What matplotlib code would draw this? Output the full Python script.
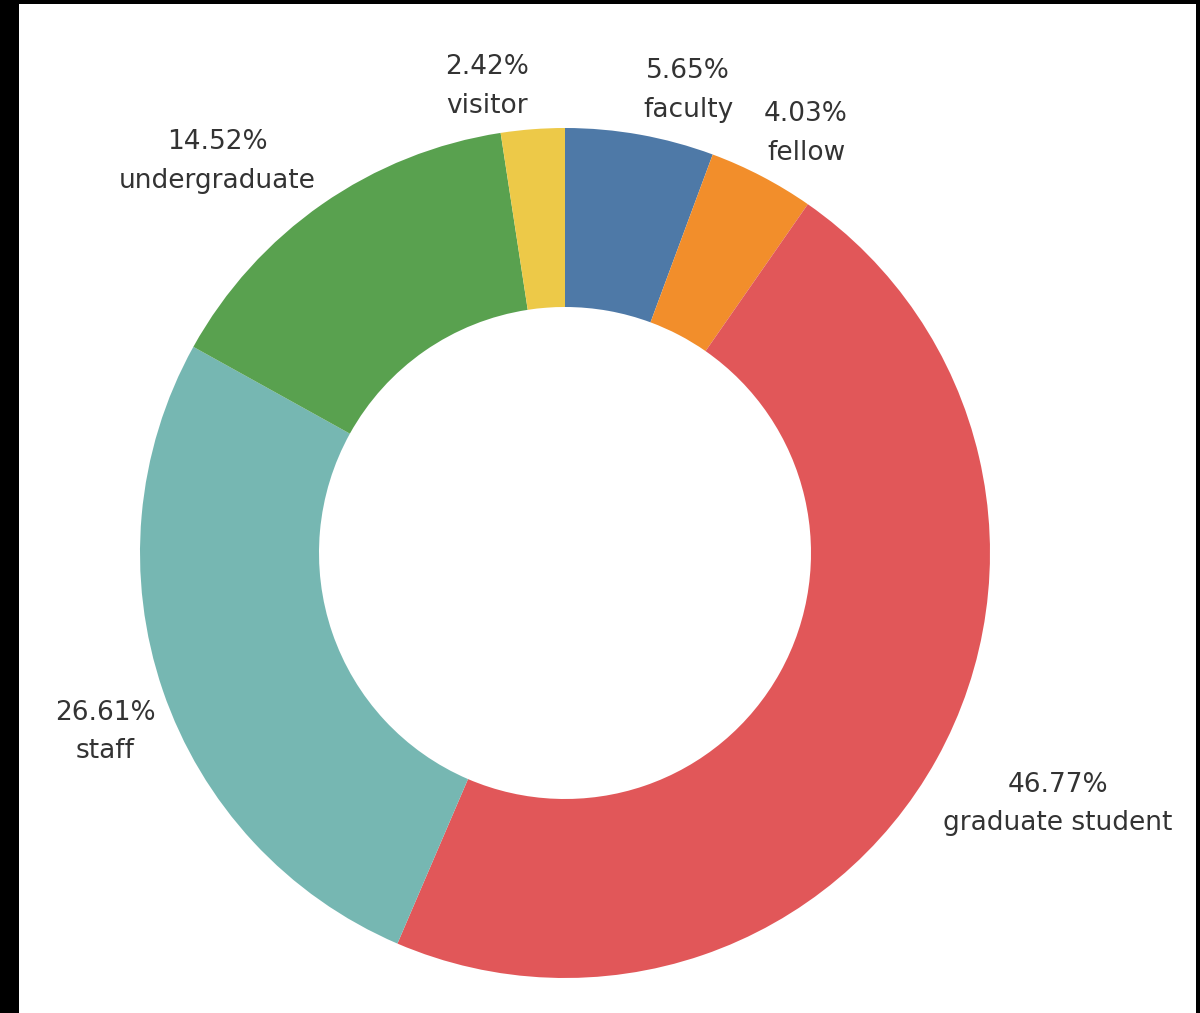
import matplotlib.pyplot as plt
from matplotlib.patches import Rectangle

# ---------------------------------------------------------------------------
# Data
# ---------------------------------------------------------------------------
categories = ['faculty', 'fellow', 'graduate student', 'staff',
              'undergraduate', 'visitor']
shares = [5.65, 4.03, 46.77, 26.61, 14.52, 2.42]
colours = ['#4e79a7', '#f28e2b', '#e15759', '#76b7b2', '#59a14f', '#edc948']

# label block centres in pixel space (x from left, y from top)
label_xy = [(688, 90), (806, 133), (1058, 804), (105, 732), (217, 161),
            (487, 86)]

W, H = 1200, 1013
fig = plt.figure(figsize=(W / 100, H / 100), dpi=100, facecolor='black')
ax = fig.add_axes([0, 0, 1, 1])
ax.set_xlim(0, W)
ax.set_ylim(0, H)
ax.set_aspect('equal')
ax.axis('off')

# white panel on black background
ax.add_patch(Rectangle((19, 0), 1196 - 19, H - 4, facecolor='white',
                       edgecolor='none', zorder=0))

# donut
cx, cy = 565, H - 553
r_out, r_in = 425, 246
ax.pie(shares, colors=colours, startangle=90, counterclock=False,
       center=(cx, cy), radius=r_out, frame=True,
       wedgeprops=dict(width=r_out - r_in, edgecolor='white', linewidth=0))
ax.set_xlim(0, W)
ax.set_ylim(0, H)
ax.axis('off')

for name, val, (lx, ly) in zip(categories, shares, label_xy):
    ax.text(lx, H - ly, '%.2f%%\n%s' % (val, name), ha='center', va='center',
            multialignment='center', fontsize=19, color='#333333',
            linespacing=1.65, zorder=5)

fig.savefig('out.png', dpi=100, facecolor='black')
